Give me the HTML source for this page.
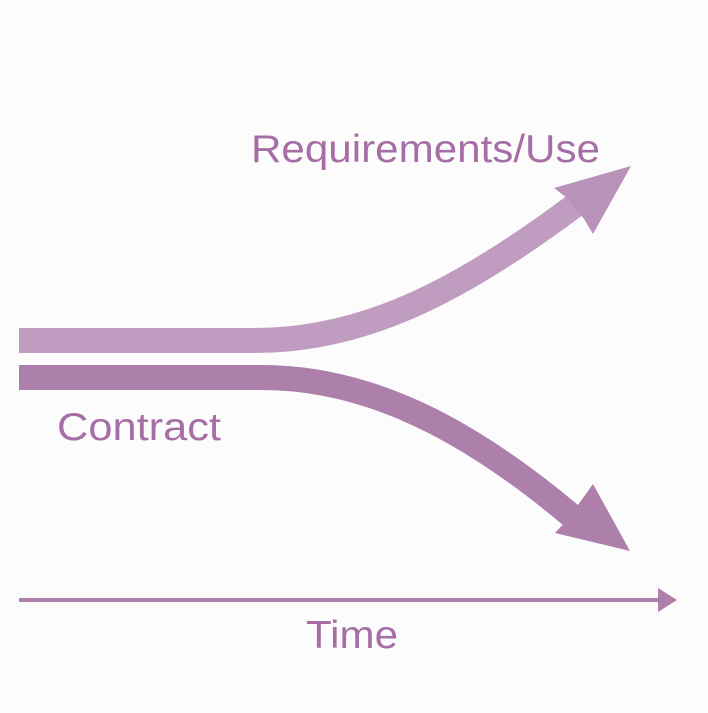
<!DOCTYPE html>
<html><head><meta charset="utf-8"><style>html,body{margin:0;padding:0;background:#fdfcfd}</style></head>
<body>
<svg width="708" height="708" viewBox="0 0 708 708" xmlns="http://www.w3.org/2000/svg">
<rect width="708" height="708" fill="#fdfcfd"/>
<g font-family="Liberation Sans, sans-serif" fill="#a56fa5">
<text x="251" y="162" font-size="39" textLength="349" lengthAdjust="spacingAndGlyphs">Requirements/Use</text>
<text x="57" y="440" font-size="39" textLength="164" lengthAdjust="spacingAndGlyphs">Contract</text>
<text x="306" y="648" font-size="39" textLength="92" lengthAdjust="spacingAndGlyphs">Time</text>
</g>
<path d="M19 340.5 L255 340.5 C360 340.5 455 295 574 206" stroke="#c09dc0" stroke-width="25" fill="none"/>
<path d="M631 166 L554 188 L567 198 L584 219 L593 234 Z" fill="#b992b9"/>
<path d="M19 377.5 L262 377.5 C370 377.5 470 430 574 518" stroke="#ad80ac" stroke-width="25" fill="none"/>
<path d="M630 551 L555 533 L567 520 L583 498 L593 484 Z" fill="#ad80ac"/>
<line x1="19" y1="600" x2="660" y2="600" stroke="#ad80ac" stroke-width="4"/>
<path d="M677 600 L658 588 L658 612 Z" fill="#ad80ac"/>
</svg>
</body></html>
